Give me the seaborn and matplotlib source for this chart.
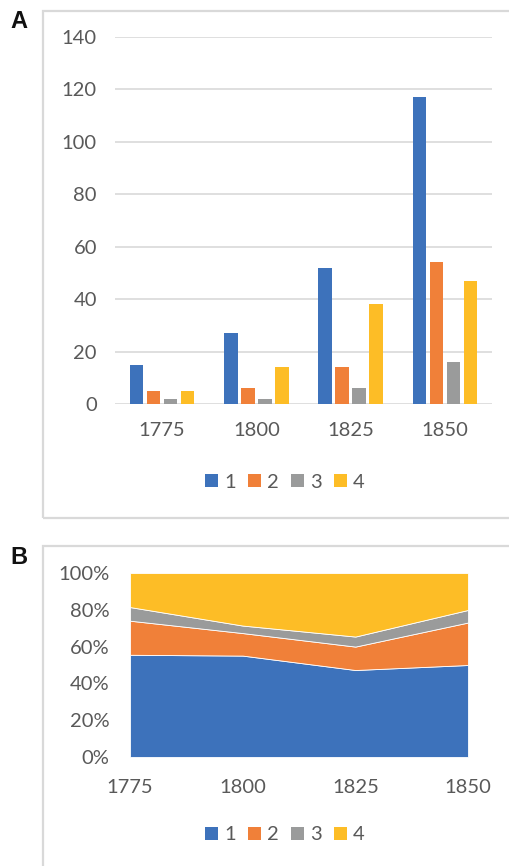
import matplotlib
matplotlib.use("Agg")
import matplotlib.pyplot as plt
import seaborn as sns
import pandas as pd
import numpy as np
from matplotlib.patches import Rectangle, Patch

# ---- data ----
years = ["1775", "1800", "1825", "1850"]
series_names = ["1", "2", "3", "4"]
s1 = [15, 27, 52, 117]
s2 = [5, 6, 14, 54]
s3 = [2, 2, 6, 16]
s4 = [5, 14, 38, 47]
y_ticks_a = [0, 20, 40, 60, 80, 100, 120, 140]
y_ticks_b = [0, 0.2, 0.4, 0.6, 0.8, 1.0]
y_labels_b = ["0%", "20%", "40%", "60%", "80%", "100%"]

colors = ["#3D72BB", "#F08039", "#9A9B9B", "#FDBD26"]
txt = "#595959"
grid = "#D9D9D9"
FS = 14.5

sns.set_theme(style="white")
plt.rcParams["font.family"] = ["Lato", "DejaVu Sans"]

W, H = 510, 866
fig = plt.figure(figsize=(W / 100, H / 100), dpi=100)

def ax_rect(x0, y0, x1, y1):
    return [x0 / W, 1 - y1 / H, (x1 - x0) / W, (y1 - y0) / H]

# frames
fig.patches.append(Rectangle((43 / W, 1 - 518 / H), 600 / W, (518 - 11) / H,
                             transform=fig.transFigure, fill=False,
                             edgecolor=grid, lw=1.6))
fig.patches.append(Rectangle((43 / W, -0.1), 600 / W, (1 - 546 / H) + 0.1,
                             transform=fig.transFigure, fill=False,
                             edgecolor=grid, lw=1.6))
fig.text(19 / W, 1 - 22 / H, "A", fontsize=17, fontweight="bold",
         family="Liberation Sans", ha="center", va="center", color="#111111")
fig.text(19 / W, 1 - 557 / H, "B", fontsize=17, fontweight="bold",
         family="Liberation Sans", ha="center", va="center", color="#111111")

# ---- Panel A: grouped bars ----
rows = []
for name, vals in zip(series_names, [s1, s2, s3, s4]):
    for yr, v in zip(years, vals):
        rows.append({"year": yr, "series": name, "value": v})
df = pd.DataFrame(rows)

axA = fig.add_axes(ax_rect(115, 37, 492, 404))
sns.barplot(data=df, x="year", y="value", hue="series", order=years,
            hue_order=series_names, palette=colors, width=0.72, gap=0.2,
            saturation=1, ax=axA, legend=False, linewidth=0)
axA.set_xlim(-0.5, 3.5)
axA.set_ylim(0, 140)
axA.set_yticks(y_ticks_a)
axA.set_yticklabels([str(t) for t in y_ticks_a])
axA.yaxis.grid(True, color=grid, lw=1.2)
axA.set_axisbelow(True)
for s in axA.spines.values():
    s.set_visible(False)
axA.tick_params(axis="both", length=0, labelsize=FS, colors=txt)
axA.tick_params(axis="y", pad=13)
axA.tick_params(axis="x", pad=13)
axA.set_xlabel("")
axA.set_ylabel("")

handles = [Patch(facecolor=c, edgecolor="none") for c in colors]
fig.legend(handles, series_names, loc="center", bbox_to_anchor=(285 / W, 1 - 482 / H),
           ncol=4, frameon=False, fontsize=FS, handlelength=0.65, handleheight=0.65,
           handletextpad=0.3, columnspacing=0.6, labelcolor=txt)

# ---- Panel B: 100% stacked area ----
x_num = [int(y) for y in years]
arr = np.array([s1, s2, s3, s4], dtype=float)
frac = arr / arr.sum(axis=0)

axB = fig.add_axes(ax_rect(130, 573, 468, 757))
axB.stackplot(x_num, frac, colors=colors, edgecolor="white", linewidth=0.6)
axB.set_xlim(1775, 1850)
axB.set_ylim(0, 1)
axB.set_xticks(x_num)
axB.set_xticklabels(years)
axB.set_yticks(y_ticks_b)
axB.set_yticklabels(y_labels_b)
for s in axB.spines.values():
    s.set_visible(False)
axB.axhline(0, color=grid, lw=1.2, zorder=0)
axB.tick_params(axis="both", length=0, labelsize=FS, colors=txt)
axB.tick_params(axis="y", pad=15)
axB.tick_params(axis="x", pad=16)

fig.legend(handles, series_names, loc="center", bbox_to_anchor=(285 / W, 1 - 835 / H),
           ncol=4, frameon=False, fontsize=FS, handlelength=0.65, handleheight=0.65,
           handletextpad=0.3, columnspacing=0.6, labelcolor=txt)

fig.savefig("out.png", dpi=100)
